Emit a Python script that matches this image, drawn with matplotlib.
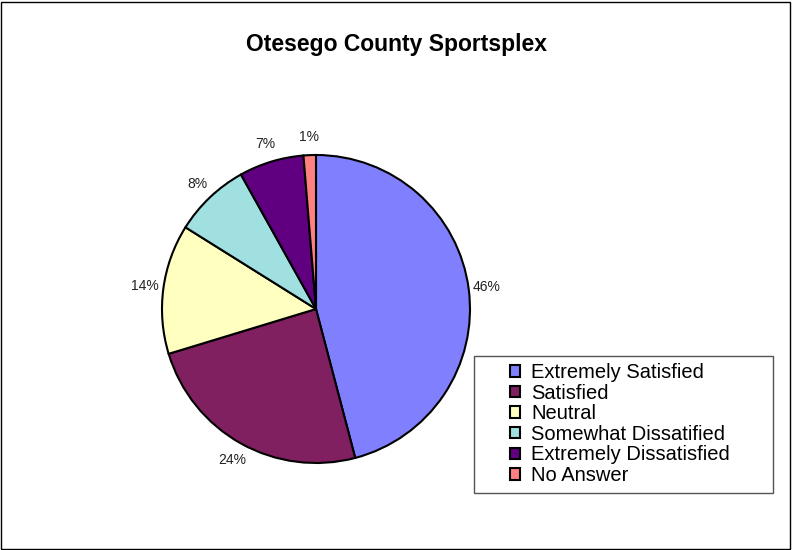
import matplotlib
matplotlib.use("Agg")
import matplotlib.pyplot as plt
from matplotlib.patches import Rectangle

plt.rcParams['font.family'] = ['Liberation Sans', 'DejaVu Sans']

title = "Otesego County Sportsplex"
categories = ["Extremely Satisfied", "Satisfied", "Neutral",
              "Somewhat Dissatified", "Extremely Dissatisfied", "No Answer"]
values = [45.9, 24.4, 13.6, 8.0, 6.8, 1.3]
colors = ["#8080FF", "#802060", "#FFFFC0", "#A0E0E0", "#600080", "#FF8080"]

W, H = 792, 550
fig = plt.figure(figsize=(W / 100, H / 100), dpi=100)
fig.patch.set_facecolor("white")
fig.patches.append(Rectangle((0.5 / W, 1.5 / H), (W - 3) / W, (H - 3) / H,
                             transform=fig.transFigure, fill=False,
                             edgecolor="black", linewidth=1.0))

cx, cy, r = 316, 309, 154
ax = fig.add_axes([(cx - r) / W, (H - cy - r) / H, 2 * r / W, 2 * r / H])
wedges, texts, autotexts = ax.pie(
    values, colors=colors, startangle=90, counterclock=False,
    autopct="%.0f%%", pctdistance=1.12,
    wedgeprops=dict(edgecolor="black", linewidth=1.5),
    textprops=dict(fontsize=10, color="#222222"))
ax.set_xlim(-1, 1)
ax.set_ylim(-1, 1)
ax.set_aspect("equal")

fig.text(396 / W, 1 - 44 / H, title, ha="center", va="center",
         fontsize=16.5, fontweight="bold")

# legend frame
lx0, ly0, lx1, ly1 = 474, 356, 773, 493
fig.patches.append(Rectangle((lx0 / W, 1 - ly1 / H), (lx1 - lx0) / W, (ly1 - ly0) / H,
                             transform=fig.transFigure, fill=False,
                             edgecolor="#555555", linewidth=1.0))

leg = fig.legend(wedges, categories, loc="upper left",
                 bbox_to_anchor=(510 / W, 1 - 363 / H),
                 fontsize=14.5, frameon=False,
                 handlelength=0.5, handleheight=0.5,
                 handletextpad=0.55, labelspacing=0.08, borderpad=0,
                 borderaxespad=0)

fig.savefig("out.png", dpi=100)
